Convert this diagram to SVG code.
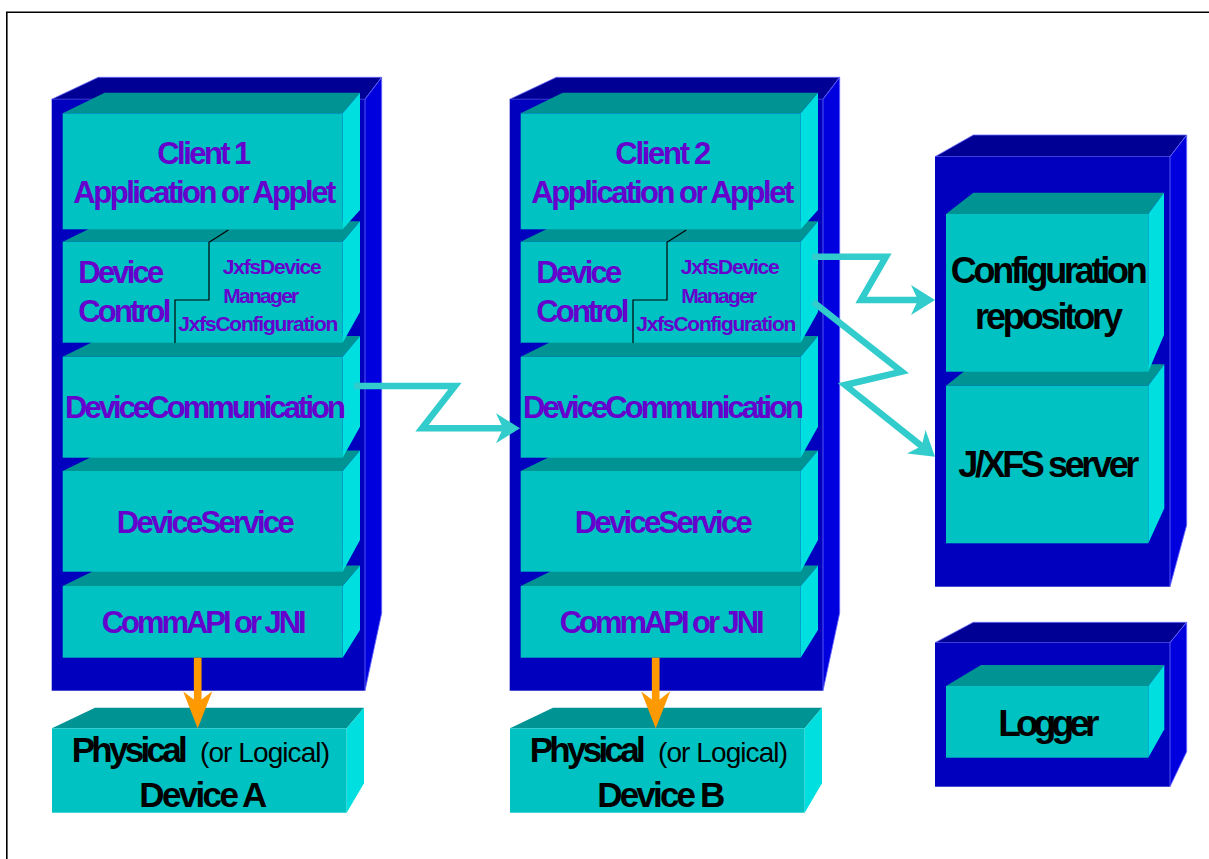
<svg xmlns="http://www.w3.org/2000/svg" width="1209" height="859" viewBox="0 0 1209 859">
  <style>
    .cTop { fill: #000094; stroke: #6a6aff; stroke-width: 0.8; }
    .cFront { fill: #0000BE; }
    .cSide { fill: #0000DE; stroke: #6a6aff; stroke-width: 0.8; }
    .bTop { fill: #009393; }
    .bFront { fill: #00C2C2; }
    .bSide { fill: #00DFDF; }
    .split { fill: none; stroke: #000000; stroke-width: 1.2; }
    .lbl { font-family: "Liberation Sans", Arial, sans-serif; font-weight: bold; fill: #6600CC; }
    .big { font-size: 31px; }
    .small { font-size: 21px; }
    .blk { font-family: "Liberation Sans", Arial, sans-serif; font-weight: bold; fill: #000000; font-size: 35px; }
    .thin { font-family: "Liberation Sans", Arial, sans-serif; font-weight: normal; fill: #000000; font-size: 28px; }
    .link { fill: none; stroke: #33CCCC; stroke-width: 6.5; stroke-linejoin: miter; stroke-miterlimit: 10; }
    .feed { fill: none; stroke: #FF9900; stroke-width: 7.7; }
    .frame { fill: none; stroke: #000000; stroke-width: 1.6; }
  </style>
  <defs>
    <marker id="headCyan" viewBox="0 0 24 32" refX="7" refY="16" markerWidth="24" markerHeight="32" orient="auto" markerUnits="userSpaceOnUse">
      <path d="M0,1 L24,16 L0,31 L7,16 Z" fill="#33CCCC"/>
    </marker>
    <marker id="headOrange" viewBox="0 0 37 29" refX="11" refY="14.5" markerWidth="37" markerHeight="29" orient="auto" markerUnits="userSpaceOnUse">
      <path d="M0,0 L37,14.5 L0,29 L11,14.5 Z" fill="#FF9900"/>
    </marker>
  </defs>

  <rect width="1209" height="859" fill="#ffffff"/>
  <!-- page border: top and left edges only -->
  <path class="frame" d="M6.8,859 V12.2 H1209"/>

  <!-- ===== Client 1 stack ===== -->
  <g id="stack-client1">
    <polygon class="cTop" points="51.7,99.3 98.3,77.3 381.7,77.3 365,99.3"/>
    <rect class="cFront" x="51.7" y="99.3" width="313.3" height="591.4"/>
    <polygon class="cSide" points="365,99.3 381.7,77.3 381.7,613 365,690.7"/>
  </g>
  <g id="client1-commapi">
    <polygon class="bTop" points="62.7,586 104.7,565.5 360,565.5 342.7,586"/>
    <rect class="bFront" x="62.7" y="586" width="280" height="71.7"/>
    <polygon class="bSide" points="342.7,586 360,565.5 360,630 342.7,657.7"/>
    <text class="lbl big" x="101.7" y="633.3" textLength="205" lengthAdjust="spacing">CommAPI or JNI</text>
  </g>
  <g id="client1-service">
    <polygon class="bTop" points="62.7,471 104.7,450.5 360,450.5 342.7,471"/>
    <rect class="bFront" x="62.7" y="471" width="280" height="100.7"/>
    <polygon class="bSide" points="342.7,471 360,450.5 360,540 342.7,571.7"/>
    <text class="lbl big" x="116.7" y="532.7" textLength="178" lengthAdjust="spacing">DeviceService</text>
  </g>
  <g id="client1-communication">
    <polygon class="bTop" points="62.7,356.7 104.7,336 360,336 342.7,356.7"/>
    <rect class="bFront" x="62.7" y="356.7" width="280" height="101"/>
    <polygon class="bSide" points="342.7,356.7 360,336 360,426.7 342.7,457.7"/>
    <text class="lbl big" x="65" y="418.3" textLength="281" lengthAdjust="spacing">DeviceCommunication</text>
  </g>
  <g id="client1-control">
    <polygon class="bTop" points="62.7,241.7 104.7,221.2 360,221.2 342.7,241.7"/>
    <rect class="bFront" x="62.7" y="241.7" width="280" height="101"/>
    <polygon class="bSide" points="342.7,241.7 360,221.2 360,312 342.7,342.7"/>
    <path class="split" d="M228.3,230 L209,242.3 V300 H175 V343"/>
    <text class="lbl big" x="78.3" y="283.3" textLength="86" lengthAdjust="spacing">Device</text>
    <text class="lbl big" x="78.3" y="321.7" textLength="93" lengthAdjust="spacing">Control</text>
    <text class="lbl small" x="222.7" y="274" textLength="99" lengthAdjust="spacing">JxfsDevice</text>
    <text class="lbl small" x="223.3" y="302.7" textLength="76" lengthAdjust="spacing">Manager</text>
    <text class="lbl small" x="178.3" y="330.7" textLength="160" lengthAdjust="spacing">JxfsConfiguration</text>
  </g>
  <g id="client1-app">
    <polygon class="bTop" points="62.7,113.3 104.7,92.7 360,92.7 342.7,113.3"/>
    <rect class="bFront" x="62.7" y="113.3" width="280" height="116"/>
    <polygon class="bSide" points="342.7,113.3 360,92.7 360,210 342.7,229.3"/>
    <text class="lbl big" x="157.3" y="164" textLength="94" lengthAdjust="spacing">Client 1</text>
    <text class="lbl big" x="73.3" y="203.3" textLength="263" lengthAdjust="spacing">Application or Applet</text>
  </g>
  <g id="device-a">
    <polygon class="bTop" points="52,728.3 95,707.7 364,707.7 346.7,728.3"/>
    <rect class="bFront" x="52" y="728.3" width="294.7" height="84.4"/>
    <polygon class="bSide" points="346.7,728.3 364,707.7 364,783.3 346.7,812.7"/>
    <text class="blk" x="71.7" y="761.7" textLength="116" lengthAdjust="spacing">Physical</text>
    <text class="thin" x="200" y="761.7" textLength="130" lengthAdjust="spacing">(or Logical)</text>
    <text class="blk" x="139.3" y="806.7" textLength="128" lengthAdjust="spacing">Device A</text>
  </g>

  <!-- ===== Client 2 stack (same geometry, shifted right) ===== -->
  <g id="stack-client2" transform="translate(458 0)">
    <polygon class="cTop" points="51.7,99.3 98.3,77.3 381.7,77.3 365,99.3"/>
    <rect class="cFront" x="51.7" y="99.3" width="313.3" height="591.4"/>
    <polygon class="cSide" points="365,99.3 381.7,77.3 381.7,613 365,690.7"/>
  </g>
  <g id="client2-commapi" transform="translate(458 0)">
    <polygon class="bTop" points="62.7,586 104.7,565.5 360,565.5 342.7,586"/>
    <rect class="bFront" x="62.7" y="586" width="280" height="71.7"/>
    <polygon class="bSide" points="342.7,586 360,565.5 360,630 342.7,657.7"/>
    <text class="lbl big" x="101.7" y="633.3" textLength="205" lengthAdjust="spacing">CommAPI or JNI</text>
  </g>
  <g id="client2-service" transform="translate(458 0)">
    <polygon class="bTop" points="62.7,471 104.7,450.5 360,450.5 342.7,471"/>
    <rect class="bFront" x="62.7" y="471" width="280" height="100.7"/>
    <polygon class="bSide" points="342.7,471 360,450.5 360,540 342.7,571.7"/>
    <text class="lbl big" x="116.7" y="532.7" textLength="178" lengthAdjust="spacing">DeviceService</text>
  </g>
  <g id="client2-communication" transform="translate(458 0)">
    <polygon class="bTop" points="62.7,356.7 104.7,336 360,336 342.7,356.7"/>
    <rect class="bFront" x="62.7" y="356.7" width="280" height="101"/>
    <polygon class="bSide" points="342.7,356.7 360,336 360,426.7 342.7,457.7"/>
    <text class="lbl big" x="65" y="418.3" textLength="281" lengthAdjust="spacing">DeviceCommunication</text>
  </g>
  <g id="client2-control" transform="translate(458 0)">
    <polygon class="bTop" points="62.7,241.7 104.7,221.2 360,221.2 342.7,241.7"/>
    <rect class="bFront" x="62.7" y="241.7" width="280" height="101"/>
    <polygon class="bSide" points="342.7,241.7 360,221.2 360,312 342.7,342.7"/>
    <path class="split" d="M228.3,230 L209,242.3 V300 H175 V343"/>
    <text class="lbl big" x="78.3" y="283.3" textLength="86" lengthAdjust="spacing">Device</text>
    <text class="lbl big" x="78.3" y="321.7" textLength="93" lengthAdjust="spacing">Control</text>
    <text class="lbl small" x="222.7" y="274" textLength="99" lengthAdjust="spacing">JxfsDevice</text>
    <text class="lbl small" x="223.3" y="302.7" textLength="76" lengthAdjust="spacing">Manager</text>
    <text class="lbl small" x="178.3" y="330.7" textLength="160" lengthAdjust="spacing">JxfsConfiguration</text>
  </g>
  <g id="client2-app" transform="translate(458 0)">
    <polygon class="bTop" points="62.7,113.3 104.7,92.7 360,92.7 342.7,113.3"/>
    <rect class="bFront" x="62.7" y="113.3" width="280" height="116"/>
    <polygon class="bSide" points="342.7,113.3 360,92.7 360,210 342.7,229.3"/>
    <text class="lbl big" x="157.3" y="164" textLength="96" lengthAdjust="spacing">Client 2</text>
    <text class="lbl big" x="73.3" y="203.3" textLength="263" lengthAdjust="spacing">Application or Applet</text>
  </g>
  <g id="device-b" transform="translate(458 0)">
    <polygon class="bTop" points="52,728.3 95,707.7 364,707.7 346.7,728.3"/>
    <rect class="bFront" x="52" y="728.3" width="294.7" height="84.4"/>
    <polygon class="bSide" points="346.7,728.3 364,707.7 364,783.3 346.7,812.7"/>
    <text class="blk" x="71.7" y="761.7" textLength="116" lengthAdjust="spacing">Physical</text>
    <text class="thin" x="200" y="761.7" textLength="130" lengthAdjust="spacing">(or Logical)</text>
    <text class="blk" x="139.3" y="806.7" textLength="128" lengthAdjust="spacing">Device B</text>
  </g>

  <!-- ===== Server side ===== -->
  <g id="server-host">
    <polygon class="cTop" points="935,156.7 973.3,135 1186.7,135 1170,156.7"/>
    <rect class="cFront" x="935" y="156.7" width="235" height="430"/>
    <polygon class="cSide" points="1170,156.7 1186.7,135 1186.7,525 1170,586.7"/>
  </g>
  <g id="jxfs-server">
    <polygon class="bTop" points="946,385.7 973,364.3 1164.3,364.3 1148.3,385.7"/>
    <rect class="bFront" x="946" y="385.7" width="202.3" height="157.6"/>
    <polygon class="bSide" points="1148.3,385.7 1164.3,364.3 1164.3,508.3 1148.3,543.3"/>
    <text class="blk" x="958.3" y="476.7" textLength="181" lengthAdjust="spacing" style="font-size:36px">J/XFS server</text>
  </g>
  <g id="config-repository">
    <polygon class="bTop" points="946,214 973.3,192.7 1164,192.7 1148.3,214"/>
    <rect class="bFront" x="946" y="214" width="202.3" height="157.7"/>
    <polygon class="bSide" points="1148.3,214 1164,192.7 1164,335 1148.3,371.7"/>
    <text class="blk" x="950.7" y="283.3" textLength="197" lengthAdjust="spacing" style="font-size:36px">Configuration</text>
    <text class="blk" x="975" y="329.3" textLength="148" lengthAdjust="spacing" style="font-size:36px">repository</text>
  </g>
  <g id="logger-host">
    <polygon class="cTop" points="935,642.7 973.3,622.3 1186.7,622.3 1170,642.7"/>
    <rect class="cFront" x="935" y="642.7" width="235" height="144"/>
    <polygon class="cSide" points="1170,642.7 1186.7,622.3 1186.7,751.7 1170,786.7"/>
  </g>
  <g id="logger">
    <polygon class="bTop" points="946,686 981,665 1164.3,665 1148.3,686"/>
    <rect class="bFront" x="946" y="686" width="202.3" height="71.7"/>
    <polygon class="bSide" points="1148.3,686 1164.3,665 1164.3,729.3 1148.3,757.7"/>
    <text class="blk" x="998.3" y="736" textLength="101" lengthAdjust="spacing" style="font-size:37px">Logger</text>
  </g>

  <!-- ===== Connectors ===== -->
  <g id="connectors">
    <path class="link" d="M354,386 H455 L422,428.3 H503" marker-end="url(#headCyan)"/>
    <path class="link" d="M812,256.7 H886 L861,300 H918" marker-end="url(#headCyan)"/>
    <path class="link" d="M813,301.7 L901.7,371.7 L845,385 L921.7,446.1" marker-end="url(#headCyan)"/>
    <path class="feed" d="M197.7,657.7 V702.4" marker-end="url(#headOrange)"/>
    <path class="feed" d="M655.7,657.7 V702.4" marker-end="url(#headOrange)"/>
  </g>
</svg>
